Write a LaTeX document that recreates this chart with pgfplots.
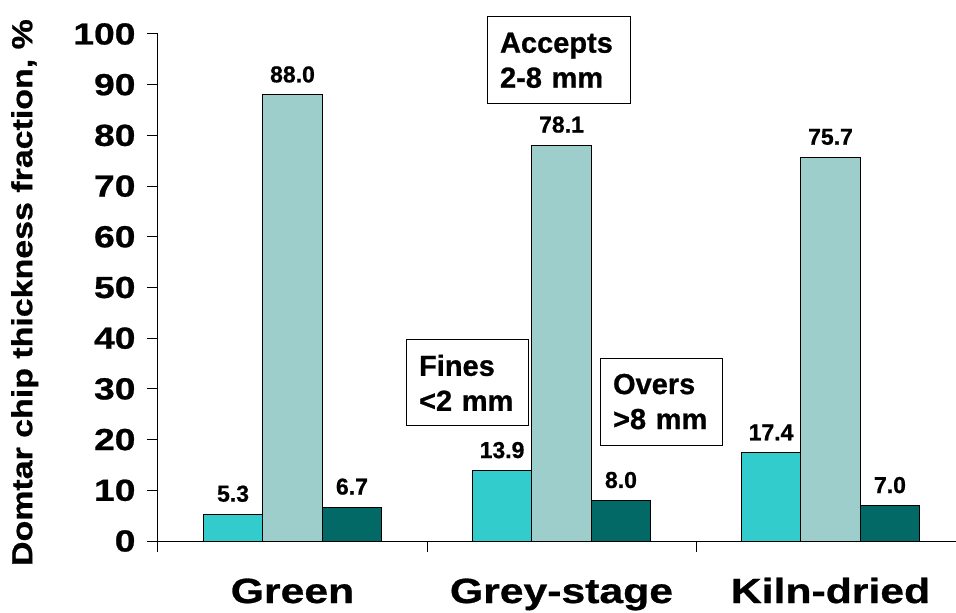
\documentclass[border=0pt]{standalone}
\usepackage{fontspec}
\setmainfont{Liberation Sans}[BoldFeatures={FakeBold=0.8}]
\newfontfamily\widefont{Liberation Sans}[FakeStretch=1.22, BoldFeatures={FakeBold=0.8}]
\newfontfamily\labelfont{Liberation Sans}[FakeStretch=1.17, BoldFeatures={FakeBold=0.8}]
\usepackage{pgfplots}
\pgfplotsset{compat=1.18}
\definecolor{fines}{HTML}{33CCCC}
\definecolor{accepts}{HTML}{9ECECC}
\definecolor{overs}{HTML}{036966}

\begin{document}
\begin{tikzpicture}
\begin{axis}[
  scale only axis, width=798pt, height=507pt,
  xmin=-0.5, xmax=2.4665, ymin=0, ymax=100,
  clip=false,
  axis x line*=bottom, axis y line*=left,
  axis line style={-, line width=1pt},
  tick align=outside, major tick length=11pt,
  tick style={black, line width=1pt},
  ybar=0pt, bar width=0.221,
  ytick={0,10,...,100},
  xtick={-0.5,0.5,1.5}, xticklabels={},
  extra x ticks={0,1,2},
  extra x tick labels={Green,Grey-stage,Kiln-dried},
  extra x tick style={major tick length=0pt,
    xticklabel style={font={\fontsize{35}{42}\selectfont\widefont\bfseries}, anchor=base, yshift=-62pt}},
  /pgf/number format/assume math mode=true,
  yticklabel style={font={\fontsize{30.5}{36}\selectfont\widefont\bfseries}, xshift=-8pt},
  ylabel={Domtar chip thickness fraction, \%},
  ylabel style={font={\fontsize{29}{34}\selectfont\labelfont\bfseries}, at={(axis description cs:-0.167,0.49)}, anchor=center},
  nodes near coords={\pgfmathprintnumber[fixed,fixed zerofill,precision=1]{\pgfplotspointmeta}},
  every node near coord/.append style={font={\fontsize{23}{28}\selectfont\bfseries}, anchor=base, yshift=12.5pt, black},
]
% Fines < 2 mm
\addplot[fill=fines, draw=black, line width=0.9pt] coordinates {(0,5.3) (1,13.9) (2,17.4)};
% Accepts 2-8 mm
\addplot[fill=accepts, draw=black, line width=0.9pt] coordinates {(0,88.0) (1,78.1) (2,75.7)};
% Overs > 8 mm
\addplot[fill=overs, draw=black, line width=0.9pt] coordinates {(0,6.7) (1,8.0) (2,7.0)};

% size-class captions
\node[draw, fill=white, line width=1pt, align=left, text width=117pt, minimum height=87pt, inner xsep=13pt,
  font={\fontsize{29}{35}\selectfont\bfseries}] at (axis cs:0.989,94.8) {Accepts\\2-8 mm};
\node[draw, fill=white, line width=1pt, align=left, text width=96pt, minimum height=86pt, inner xsep=13pt,
  font={\fontsize{29}{35}\selectfont\bfseries}] at (axis cs:0.649,31.2) {Fines\\<2 mm};
\node[draw, fill=white, line width=1pt, align=left, text width=96pt, minimum height=87pt, inner xsep=13pt,
  font={\fontsize{29}{35}\selectfont\bfseries}] at (axis cs:1.37,27.5) {Overs\\>8 mm};
\end{axis}
\pgfresetboundingbox
\path[use as bounding box] (-158pt,-72pt) rectangle (798pt,541pt);
\end{tikzpicture}
\end{document}
